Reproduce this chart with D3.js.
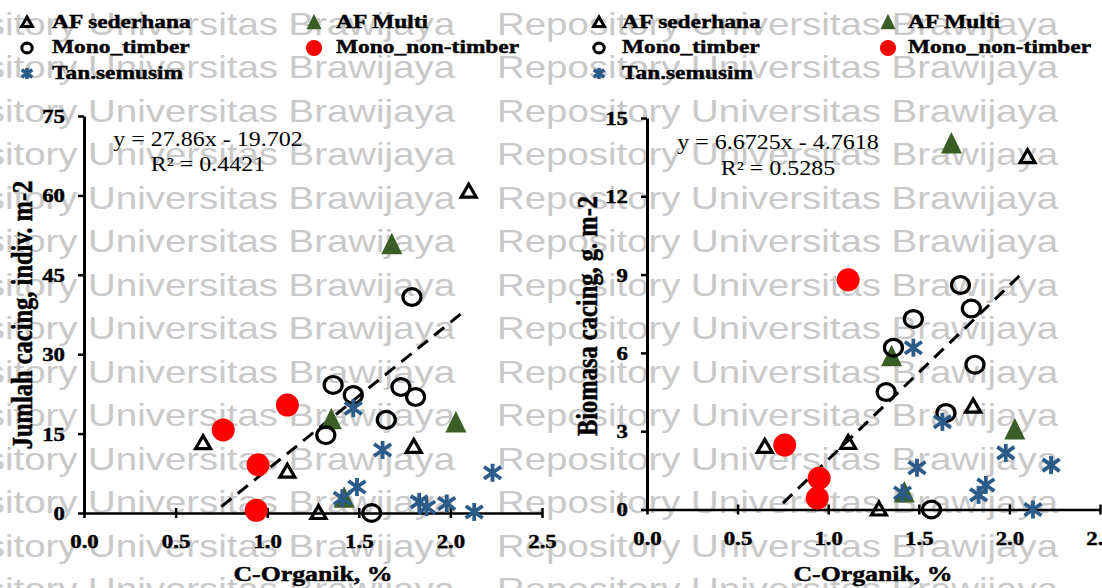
<!DOCTYPE html>
<html>
<head>
<meta charset="utf-8">
<script src="https://cdn.jsdelivr.net/npm/d3@7"></script>
<style>
  body { margin: 0; background: #fff; }
  svg { display: block; }
  .heavy { stroke: #000; stroke-width: 0.45px; }
</style>
</head>
<body>
<script>
// data (C-Organik %, per land-use group)
var groups = ["AF sederhana", "AF Multi", "Mono_timber", "Mono_non-timber", "Tan.semusim"];

var afSederhanaX = [0.65, 1.11, 1.28, 1.80, 2.10];
var afSederhanaJumlah = [13.2, 7.8, 0, 12.5, 60.7];
var afSederhanaBiomasa = [2.4, 2.55, 0, 3.94, 13.5];

var afMultiX = [1.35, 1.42, 1.68, 2.03];
var afMultiJumlah = [17.6, 2.8, 50.7, 17.0];
var afMultiBiomasa = [5.85, 0.63, 14.0, 3.05];

var monoTimberX = [1.32, 1.36, 1.47, 1.57, 1.65, 1.73, 1.79, 1.81];
var monoTimberJumlah = [14.7, 24.2, 22.3, 0, 17.6, 23.8, 40.8, 21.9];
var monoTimberBiomasa = [4.5, 6.2, 7.3, 0, 3.7, 8.6, 7.7, 5.55];

var monoNonTimberX = [0.76, 0.94, 0.95, 1.11];
var monoNonTimberJumlah = [15.7, 0.5, 9.1, 20.4];
var monoNonTimberBiomasa = [2.47, 0.44, 1.2, 8.8];

var tanSemusimX = [1.41, 1.47, 1.49, 1.63, 1.83, 1.87, 1.98, 2.13, 2.23];
var tanSemusimJumlah = [2.8, 19.8, 4.9, 11.9, 2.1, 1.1, 1.8, 0.2, 7.6];
var tanSemusimBiomasa = [0.63, 6.2, 1.6, 3.36, 0.56, 0.94, 2.17, 0, 1.7];

var xTicks = [0, 0.5, 1.0, 1.5, 2.0, 2.5];
var jumlahTicks = [0, 15, 30, 45, 60, 75];
var biomasaTicks = [0, 3, 6, 9, 12, 15];

// linear fits [slope, intercept] and the x span they are drawn over
var jumlahFit = [27.86, -19.702];
var biomasaFit = [6.6725, -4.7618];
var fitRange = [0.75, 2.06];

var SX = 1.2; // the picture is stretched sideways
var serif = "'Liberation Serif', 'Times New Roman', serif";
var green = "#3b5e27", red = "#ff0000", blue = "#2b5b88";

var svg = d3.select("body").append("svg")
    .attr("width", 1102)
    .attr("height", 588);

svg.append("rect").attr("width", 1102).attr("height", 588).attr("fill", "#fff");

function sText(parent, x, y, str) {
    return parent.append("g")
        .attr("transform", "translate(" + x + "," + y + ") scale(" + SX + ",1)")
        .append("text")
        .style("font-family", serif)
        .text(str);
}

// watermark behind everything
var wm = svg.append("g");
d3.range(14).forEach(function(k) {
    [-106, 497].forEach(function(x0) {
        wm.append("g")
            .attr("transform", "translate(" + x0 + "," + (34.5 + 43.5 * k) + ") scale(" + SX + ",1)")
            .append("text")
            .style("font-family", "'Liberation Sans', Arial, sans-serif")
            .style("font-size", "32px")
            .attr("fill", "#c9c9c9")
            .text("Repository Universitas Brawijaya");
    });
});

// marker shapes
function drawMarker(g, type, size, sw) {
    var k = size || 1, w = sw || 1;
    if (type == "AF sederhana") {
        g.append("path")
            .attr("d", "M0," + (-7.5 * k) + "L" + (7.5 * k) + "," + (5.5 * k) + "L" + (-7.5 * k) + "," + (5.5 * k) + "Z")
            .attr("fill", "none").attr("stroke", "#000").attr("stroke-width", 3.2 * w);
    } else if (type == "AF Multi") {
        g.append("path")
            .attr("d", "M0," + (-12 * k) + "L" + (10.5 * k) + "," + (9.5 * k) + "L" + (-10.5 * k) + "," + (9.5 * k) + "Z")
            .attr("fill", green);
    } else if (type == "Mono_timber") {
        g.append("ellipse")
            .attr("rx", 9 * k).attr("ry", 8.4 * k)
            .attr("fill", "none").attr("stroke", "#000").attr("stroke-width", 3.2 * w);
    } else if (type == "Mono_non-timber") {
        g.append("circle")
            .attr("r", 11.5 * k)
            .attr("fill", red);
    } else {
        var p = g.append("g").attr("stroke", blue).attr("stroke-width", 3.8 * w);
        p.append("line").attr("x1", 0).attr("x2", 0).attr("y1", -9 * k).attr("y2", 9 * k);
        p.append("line").attr("x1", -8.5 * k).attr("x2", 8.5 * k).attr("y1", -6 * k).attr("y2", 6 * k);
        p.append("line").attr("x1", -8.5 * k).attr("x2", 8.5 * k).attr("y1", 6 * k).attr("y2", -6 * k);
    }
}

function drawPanel(cfg) {
    var x = d3.scaleLinear().domain([0, 2.5]).range(cfg.xRange);
    var y = d3.scaleLinear().domain([0, cfg.yMax]).range(cfg.yRange);
    var g = svg.append("g");

    // legend
    var rows = [["AF sederhana", 0, 0], ["AF Multi", 1, 0], ["Mono_timber", 0, 1],
                ["Mono_non-timber", 1, 1], ["Tan.semusim", 0, 2]];
    var legendSize = {"AF sederhana": 0.72, "AF Multi": 0.72, "Mono_timber": 0.58,
                      "Mono_non-timber": 0.7, "Tan.semusim": 0.62};
    rows.forEach(function(r) {
        var mx = cfg.legendMarkerX[r[1]], tx = cfg.legendTextX[r[1]];
        var m = g.append("g").attr("transform", "translate(" + mx + "," + (22.5 + 25.5 * r[2]) + ")");
        drawMarker(m, r[0], legendSize[r[0]], 0.95);
        sText(g, tx, 27.5 + 25.8 * r[2], r[0])
            .attr("class", "heavy")
            .style("font-size", "19.5px")
            .style("font-weight", "bold");
    });

    // axes
    var xAxis = g.append("g")
        .attr("transform", "translate(0," + cfg.yRange[0] + ")")
        .call(d3.axisBottom(x).tickValues(xTicks).tickFormat(d3.format(".1f")).tickSizeOuter(0));
    xAxis.select(".domain").attr("stroke-width", 2.5);
    xAxis.selectAll(".tick line").attr("y1", -5).attr("y2", 5).attr("stroke-width", 2.5);
    xAxis.selectAll(".tick text")
        .attr("class", "heavy")
        .attr("y", cfg.xLabelDy).attr("dy", 0)
        .attr("transform", "scale(" + SX + ",1)")
        .style("font-family", serif).style("font-size", "19px").style("font-weight", "bold")
        .attr("fill", "#000");

    var yAxis = g.append("g")
        .attr("transform", "translate(" + cfg.xRange[0] + ",0)")
        .call(d3.axisLeft(y).tickValues(cfg.yTicks).tickSize(6).tickSizeOuter(0).tickPadding(0));
    yAxis.select(".domain").attr("stroke-width", 3);
    yAxis.selectAll(".tick line").attr("stroke-width", 2.5);
    yAxis.selectAll(".tick text")
        .attr("class", "heavy")
        .attr("x", -19 / SX).attr("dy", "0.34em")
        .attr("transform", "scale(" + SX + ",1)")
        .style("font-family", serif).style("font-size", "19px").style("font-weight", "bold")
        .attr("fill", "#000");

    // axis titles
    sText(g, cfg.xTitleX, 581, "C-Organik, %")
        .attr("class", "heavy")
        .attr("text-anchor", "middle")
        .style("font-size", "21.5px").style("font-weight", "bold");
    sText(g, cfg.yTitleX, cfg.yTitleY, cfg.yTitle)
        .attr("class", "heavy")
        .attr("transform", "rotate(-90)")
        .attr("text-anchor", "middle")
        .style("font-size", "24.5px").style("font-weight", "bold");

    // trendline
    g.append("line")
        .attr("x1", x(fitRange[0])).attr("y1", y(cfg.fit[0] * fitRange[0] + cfg.fit[1]))
        .attr("x2", x(fitRange[1])).attr("y2", y(cfg.fit[0] * fitRange[1] + cfg.fit[1]))
        .attr("stroke", "#000").attr("stroke-width", 3)
        .attr("stroke-dasharray", "13,8");

    sText(g, cfg.eqX, cfg.eqY[0], "y = " + cfg.fit[0] + "x - " + Math.abs(cfg.fit[1]))
        .attr("text-anchor", "middle").style("font-size", "20px");
    sText(g, cfg.eqX, cfg.eqY[1], "R\u00b2 = " + cfg.r2)
        .attr("text-anchor", "middle").style("font-size", "20px");

    // points, drawn group by group
    cfg.series.forEach(function(s) {
        g.append("g").selectAll("g")
            .data(s.x.map(function(v, i) { return [v, s.y[i]]; }))
            .enter().append("g")
            .attr("transform", function(d) { return "translate(" + x(d[0]) + "," + y(d[1]) + ")"; })
            .each(function() { drawMarker(d3.select(this), s.name); });
    });
}

drawPanel({
    xRange: [84, 542], yRange: [513, 116], yMax: 75, yTicks: jumlahTicks,
    xLabelDy: 35, xTitleX: 313, yTitleX: 32, yTitleY: 315,
    yTitle: "Jumlah cacing, indiv. m-2",
    fit: jumlahFit, r2: "0.4421", eqX: 208, eqY: [146, 171],
    legendMarkerX: [27, 314], legendTextX: [52, 336],
    series: [
        {name: "Mono_non-timber", x: monoNonTimberX, y: monoNonTimberJumlah},
        {name: "AF sederhana", x: afSederhanaX, y: afSederhanaJumlah},
        {name: "AF Multi", x: afMultiX, y: afMultiJumlah},
        {name: "Mono_timber", x: monoTimberX, y: monoTimberJumlah},
        {name: "Tan.semusim", x: tanSemusimX, y: tanSemusimJumlah}
    ]
});

drawPanel({
    xRange: [647, 1100], yRange: [509.5, 118], yMax: 15, yTicks: biomasaTicks,
    xLabelDy: 36, xTitleX: 873, yTitleX: 597, yTitleY: 316,
    yTitle: "Biomasa cacing, g. m-2",
    fit: biomasaFit, r2: "0.5285", eqX: 778, eqY: [149, 175],
    legendMarkerX: [599, 888], legendTextX: [622, 908],
    series: [
        {name: "Mono_non-timber", x: monoNonTimberX, y: monoNonTimberBiomasa},
        {name: "AF sederhana", x: afSederhanaX, y: afSederhanaBiomasa},
        {name: "AF Multi", x: afMultiX, y: afMultiBiomasa},
        {name: "Mono_timber", x: monoTimberX, y: monoTimberBiomasa},
        {name: "Tan.semusim", x: tanSemusimX, y: tanSemusimBiomasa}
    ]
});
</script>
</body>
</html>
